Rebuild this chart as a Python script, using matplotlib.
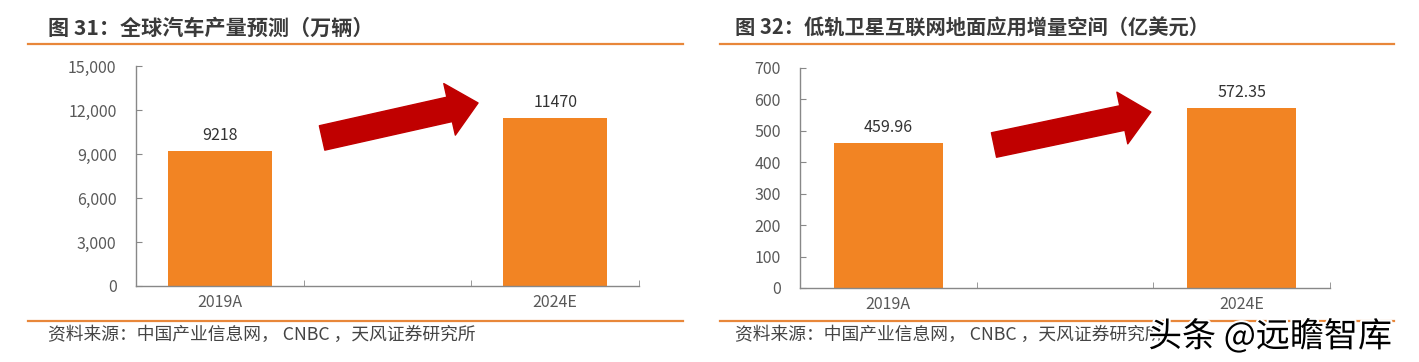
import matplotlib
matplotlib.use("Agg")
import matplotlib.pyplot as plt
from matplotlib.patches import FancyArrowPatch, ArrowStyle
from matplotlib.ticker import FuncFormatter
import matplotlib.patheffects as pe

plt.rcParams["font.family"] = ["Liberation Sans Narrow", "Noto Sans CJK SC", "DejaVu Sans"]

# --- Data ---
categories = ["2019A", "", "2024E"]

cars_title = "图 31：全球汽车产量预测（万辆）"
cars_values = [9218, None, 11470]
cars_labels = ["9218", "", "11470"]
cars_yticks = [0, 3000, 6000, 9000, 12000, 15000]

sat_title = "图 32：低轨卫星互联网地面应用增量空间（亿美元）"
sat_values = [459.96, None, 572.35]
sat_labels = ["459.96", "", "572.35"]
sat_yticks = [0, 100, 200, 300, 400, 500, 600, 700]

source_text = "资料来源：中国产业信息网， CNBC ，天风证券研究所"

ORANGE = "#F28423"
LINE_ORANGE = "#E8873A"
ARROW_RED = "#C00000"
GRAY = "#595959"
CJK = ["Noto Sans CJK SC", "DejaVu Sans"]

W, H = 1419, 362
fig = plt.figure(figsize=(W / 100, H / 100), dpi=100)


def fx(px):
    return px / W


def fy(py):
    return 1 - py / H


def panel(rect, values, labels, yticks, fmt, arrow_tail, arrow_tip):
    ax = fig.add_axes(rect)
    xs = [i for i, v in enumerate(values) if v is not None]
    vals = [values[i] for i in xs]
    ax.bar(xs, vals, width=0.62, color=ORANGE, zorder=2)
    for i in xs:
        ax.annotate(labels[i], (i, values[i]), xytext=(0, 5), textcoords="offset points",
                    ha="center", va="bottom", fontsize=11.5, color="#333333")
    ax.set_xlim(-0.5, len(categories) - 0.5)
    ax.set_ylim(yticks[0], yticks[-1])
    ax.set_yticks(yticks)
    ax.yaxis.set_major_formatter(FuncFormatter(fmt))
    ax.set_xticks(range(len(categories)))
    ax.set_xticklabels(categories)
    ax.set_xticks([0.5, 1.5, 2.5], minor=True)
    ax.tick_params(axis="x", which="major", length=0, pad=6, labelsize=11.5, labelcolor=GRAY)
    ax.tick_params(axis="x", which="minor", direction="in", length=4, color="#888888")
    ax.tick_params(axis="y", direction="in", length=4, color="#888888", pad=14,
                   labelsize=11.5, labelcolor=GRAY)
    for s in ["top", "right"]:
        ax.spines[s].set_visible(False)
    for s in ["left", "bottom"]:
        ax.spines[s].set_color("#888888")
        ax.spines[s].set_linewidth(1.0)
    style = ArrowStyle("Simple", head_length=21, head_width=38, tail_width=18)
    arr = FancyArrowPatch(arrow_tail, arrow_tip, transform=ax.transAxes, arrowstyle=style,
                          mutation_scale=1, shrinkA=0, shrinkB=0, color=ARROW_RED,
                          clip_on=False, zorder=3)
    ax.add_patch(arr)
    return ax


# left panel: axis spans x 136..639 px, y 66..286 px
panel([fx(136), fy(286), fx(639) - fx(136), fy(66) - fy(286)],
      cars_values, cars_labels, cars_yticks, lambda v, p: f"{int(v):,}",
      (0.37, 0.673), (0.68, 0.832))

# right panel: axis spans x 800..1330 px, y 68..288 px
panel([fx(800), fy(288), fx(1330) - fx(800), fy(68) - fy(288)],
      sat_values, sat_labels, sat_yticks, lambda v, p: f"{int(v)}",
      (0.366, 0.65), (0.662, 0.80))

# titles, rules, sources
for x0, x1, tx, title, tsize in [(28, 683, 48, cars_title, 15.2),
                                 (720, 1394, 735, sat_title, 14.6)]:
    fig.text(fx(tx), fy(28), title, fontsize=tsize, fontweight="bold", color="#3a3a3a",
             family=CJK, ha="left", va="center")
    fig.add_artist(plt.Line2D([fx(x0), fx(x1)], [fy(44), fy(44)], color=LINE_ORANGE, lw=1.6))
    fig.add_artist(plt.Line2D([fx(x0), fx(x1)], [fy(321), fy(321)], color=LINE_ORANGE, lw=1.6))
    fig.text(fx(tx), fy(335), source_text, fontsize=12.8, color="#444444",
             family=CJK, ha="left", va="center")

# watermark
fig.text(fx(1148), fy(337), "头条 @远瞻智库", fontsize=24.5, color="black", family=CJK,
         ha="left", va="center",
         path_effects=[pe.withStroke(linewidth=3, foreground="white")])

fig.savefig("out.png", dpi=100)
